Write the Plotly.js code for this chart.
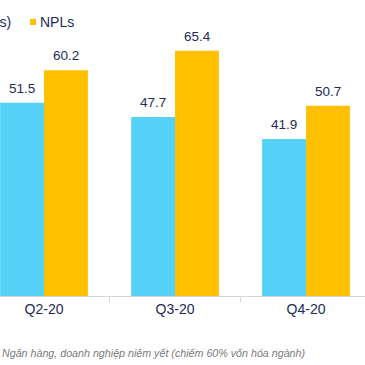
<!DOCTYPE html>
<html>
<head>
<meta charset="utf-8">
<script src="https://cdn.plot.ly/plotly-3.0.1.min.js"></script>
<style>html,body{margin:0;padding:0;background:#fff}#chart{width:365px;height:365px}</style>
</head>
<body>
<div id="chart"></div>
<script>
const categories = ["Q2-20", "Q3-20", "Q4-20"];
const smlValues = [51.5, 47.7, 41.9];
const nplValues = [60.2, 65.4, 50.7];
const seriesNames = ["Nợ cần chú ý (SMLs)", "NPLs"];
const caption = "Ngân hàng, doanh nghiệp niêm yết (chiếm 60% vốn hóa ngành)";

const font = "Liberation Sans, Arial, sans-serif";
const navy = "#1d2b55";

const traces = [
  {
    type: "bar", name: seriesNames[0], x: categories, y: smlValues,
    marker: {color: "#55d0f6"}, hoverinfo: "skip"
  },
  {
    type: "bar", name: seriesNames[1], x: categories, y: nplValues,
    marker: {color: "#ffc000"}, hoverinfo: "skip"
  }
];

const valueLabels = [];
categories.forEach((c, i) => {
  valueLabels.push({xref: "x", yref: "y", x: c, y: smlValues[i], xshift: -22, yshift: 5,
    xanchor: "center", yanchor: "bottom", text: smlValues[i].toFixed(1), showarrow: false,
    font: {family: font, size: 13.5, color: navy}});
  valueLabels.push({xref: "x", yref: "y", x: c, y: nplValues[i], xshift: 22, yshift: 5,
    xanchor: "center", yanchor: "bottom", text: nplValues[i].toFixed(1), showarrow: false,
    font: {family: font, size: 13.5, color: navy}});
});

const layout = {
  width: 365, height: 365,
  margin: {l: 0, r: 0, t: 20, b: 69, pad: 0},
  paper_bgcolor: "#ffffff", plot_bgcolor: "#ffffff",
  showlegend: false,
  barmode: "group", bargap: 0.33, bargroupgap: 0,
  font: {family: font, color: navy},
  xaxis: {
    type: "category", range: [-0.336, 2.45],
    showline: true, linecolor: "#d9d9d9", linewidth: 1,
    ticks: "outside", tickson: "boundaries", ticklen: 5, tickcolor: "#d9d9d9",
    tickfont: {family: font, size: 14, color: navy},
    showgrid: false, zeroline: false, fixedrange: true
  },
  yaxis: {
    range: [0, 73.6], visible: false, showgrid: false, zeroline: false, fixedrange: true
  },
  shapes: [
    {type: "rect", xref: "paper", yref: "paper",
     x0: 30/365, x1: 36/365, y0: (296-25)/276, y1: (296-19)/276,
     fillcolor: "#ffc000", line: {width: 0}}
  ],
  annotations: valueLabels.concat([
    {xref: "paper", yref: "paper", x: 13/365, y: (296-22)/276, xanchor: "right", yanchor: "middle",
     text: seriesNames[0], showarrow: false, font: {family: font, size: 14, color: navy}},
    {xref: "paper", yref: "paper", x: 38/365, y: (296-22)/276, xanchor: "left", yanchor: "middle",
     text: seriesNames[1], showarrow: false, font: {family: font, size: 14, color: navy}},
    {xref: "paper", yref: "paper", x: 0, y: (296-353)/276, xanchor: "left", yanchor: "middle",
     text: "<i>" + caption + "</i>", showarrow: false, font: {family: font, size: 10.7, color: "#7a7a7a"}}
  ])
};

Plotly.newPlot("chart", traces, layout, {displayModeBar: false, staticPlot: true});
</script>
</body>
</html>
